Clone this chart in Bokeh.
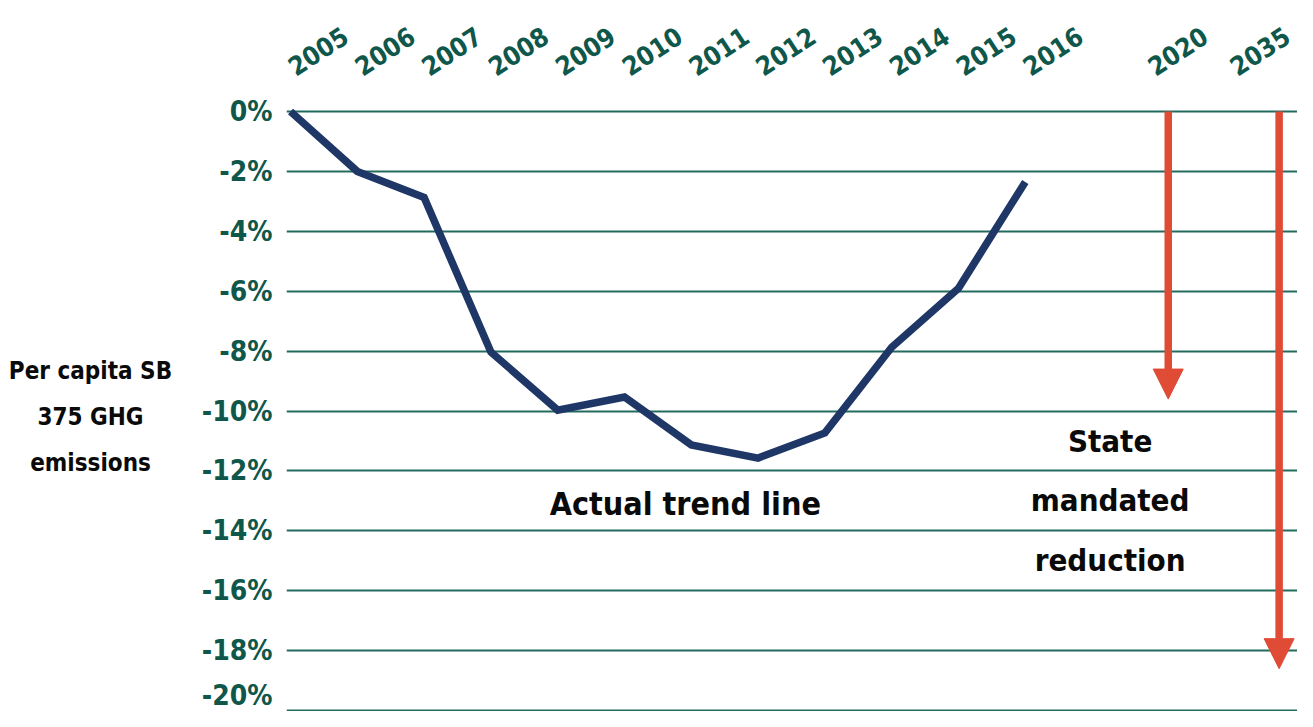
import math
from bokeh.plotting import figure
from bokeh.layouts import row
from bokeh.models import (Range1d, LinearAxis, FixedTicker, Arrow, NormalHead,
                          Label, PrintfTickFormatter)
from bokeh.embed import file_html
from bokeh.resources import INLINE

# ---- data ----
years = ["2005", "2006", "2007", "2008", "2009", "2010",
         "2011", "2012", "2013", "2014", "2015", "2016"]
change = [0.0, -2.0, -2.87, -8.03, -9.97, -9.53,
          -11.13, -11.57, -10.73, -7.87, -5.9, -2.35]
target_years = ["2020", "2035"]
target_change = [-9.6, -18.6]
y_ticks = [0, -2, -4, -6, -8, -10, -12, -14, -16, -18, -20]
y_title = ["Per capita SB", "375 GHG", "emissions"]

# ---- layout helpers (axis positions, not data) ----
year_x = [int(y) - 2005 for y in years]
target_label_x = [12.87, 14.1]
target_arrow_x = [13.14, 14.8]
title_y = [-8.66, -10.19, -11.72]

FONT = "DejaVu Sans Condensed"
GREEN = "#0f574a"
GRID = "#236b5e"
NAVY = "#1f3766"
RED = "#e04b36"
BLACK = "#0a0a0a"

LEFT_W = 180
H = 711

yr = Range1d(-20.03, 0.367)

# ---- left panel holding the horizontal y-axis title ----
pt = figure(width=LEFT_W, height=H, output_backend="svg", toolbar_location=None,
            x_range=Range1d(0, LEFT_W), y_range=yr,
            min_border=0, min_border_top=100, x_axis_location=None,
            y_axis_location=None, outline_line_color=None,
            background_fill_color="white", border_fill_color="white")
pt.xgrid.visible = False
pt.ygrid.visible = False
for t, ty in zip(y_title, title_y):
    pt.add_layout(Label(x=90, y=ty, text=t, text_align="center",
                        text_baseline="alphabetic", text_font=FONT,
                        text_font_style="bold", text_font_size="24px",
                        text_color=BLACK))

# ---- main chart ----
p = figure(width=1297 - LEFT_W, height=H, output_backend="svg", toolbar_location=None,
           x_range=Range1d(-0.06, 15.075), y_range=yr,
           min_border_left=286 - LEFT_W, min_border_right=0, min_border_top=100,
           min_border_bottom=0, x_axis_location=None, y_axis_location="left",
           outline_line_color=None, background_fill_color="white",
           border_fill_color="white")

yax = p.yaxis[0]
yax.ticker = FixedTicker(ticks=y_ticks)
yax.formatter = PrintfTickFormatter(format="%d%%")
yax.axis_line_color = None
yax.major_tick_line_color = None
yax.minor_tick_line_color = None
yax.major_tick_out = 0
yax.major_tick_in = 0
yax.minor_tick_out = 0
yax.major_label_text_font = FONT
yax.major_label_text_font_style = "bold"
yax.major_label_text_font_size = "28px"
yax.major_label_text_color = GREEN
yax.major_label_standoff = 14

p.ygrid.ticker = FixedTicker(ticks=y_ticks)
p.ygrid.grid_line_color = GRID
p.ygrid.grid_line_width = 2
p.xgrid.grid_line_color = None

tick_pos = year_x + target_label_x
tick_lab = years + target_years
top = LinearAxis(ticker=FixedTicker(ticks=tick_pos),
                 major_label_overrides={float(k): v for k, v in zip(tick_pos, tick_lab)})
top.axis_line_color = None
top.major_tick_line_color = None
top.minor_tick_line_color = None
top.major_tick_out = 0
top.major_tick_in = 0
top.minor_tick_out = 0
top.major_label_text_font = FONT
top.major_label_text_font_style = "bold"
top.major_label_text_font_size = "26px"
top.major_label_text_color = GREEN
top.major_label_orientation = math.radians(33)
top.major_label_standoff = 32
p.add_layout(top, "above")

p.line(year_x, change, line_color=NAVY, line_width=7.5, line_join="miter")

for xa, yv in zip(target_arrow_x, target_change):
    p.add_layout(Arrow(x_start=xa, y_start=0, x_end=xa, y_end=yv,
                       line_color=RED, line_width=7.5,
                       end=NormalHead(size=30, fill_color=RED, line_color=RED,
                                      line_width=1)))

def lab(x, y, t, size):
    p.add_layout(Label(x=x, y=y, text=t, text_align="center",
                       text_baseline="alphabetic", text_font=FONT,
                       text_font_style="bold", text_font_size=size,
                       text_color=BLACK))

lab(5.91, -13.1, "Actual trend line", "32px")
lab(12.27, -11.0, "State", "31px")
lab(12.27, -12.97, "mandated", "31px")
lab(12.27, -14.97, "reduction", "31px")

layout = row(pt, p)
open("out.html", "w").write(file_html(layout, INLINE))
